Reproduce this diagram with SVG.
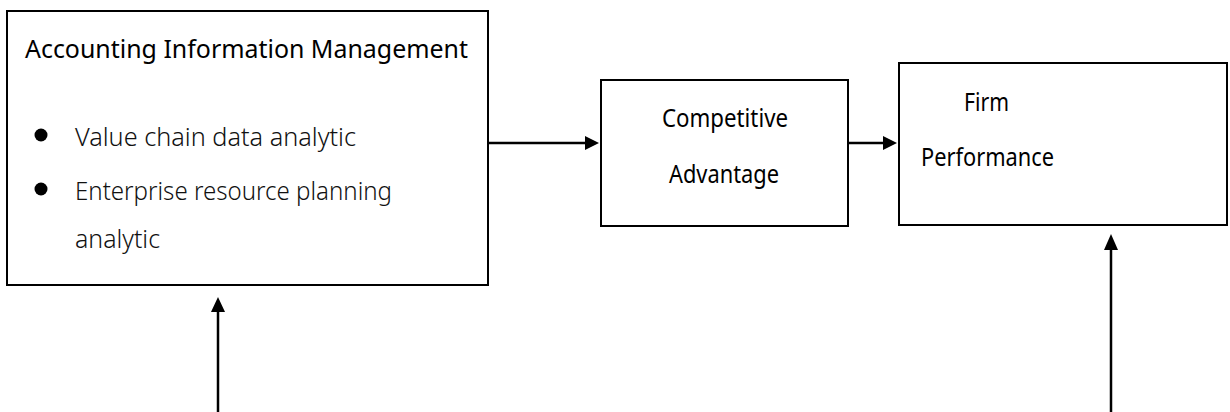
<svg xmlns="http://www.w3.org/2000/svg" width="1230" height="412" viewBox="0 0 1230 412">
  <defs>
    <style>
      .box { fill: #fff; stroke: #000; stroke-width: 2; }
      .head { font-family: "Noto Sans", "Open Sans", sans-serif; font-size: 25px; font-weight: 400; fill: #000; }
      .item { font-family: "Noto Sans", "Open Sans", sans-serif; font-size: 26px; font-weight: 300; fill: #111; }
      .link { fill: none; stroke: #000; stroke-width: 2.5; }
      .tip { fill: #000; stroke: none; }
    </style>
  </defs>
  <rect width="1230" height="412" fill="#fff"/>

  <g id="accounting-information-management">
    <rect class="box" x="7" y="11" width="481" height="274"/>
    <text class="head" x="25" y="58" textLength="443" lengthAdjust="spacingAndGlyphs">Accounting Information Management</text>
    <circle cx="41" cy="135" r="6.5" fill="#000"/>
    <circle cx="41" cy="189" r="6.5" fill="#000"/>
    <text class="item" x="75" y="146" textLength="281" lengthAdjust="spacingAndGlyphs">Value chain data analytic</text>
    <text class="item" x="75" y="200" textLength="317" lengthAdjust="spacingAndGlyphs">Enterprise resource planning</text>
    <text class="item" x="75" y="248" textLength="85" lengthAdjust="spacingAndGlyphs">analytic</text>
  </g>

  <g id="competitive-advantage">
    <rect class="box" x="601" y="80" width="247" height="146"/>
    <text class="head" x="662" y="127" textLength="126" lengthAdjust="spacingAndGlyphs">Competitive</text>
    <text class="head" x="669" y="183" textLength="110" lengthAdjust="spacingAndGlyphs">Advantage</text>
  </g>

  <g id="firm-performance">
    <rect class="box" x="899" y="63" width="328" height="162"/>
    <text class="head" x="964" y="111" textLength="45" lengthAdjust="spacingAndGlyphs">Firm</text>
    <text class="head" x="921" y="166" textLength="133" lengthAdjust="spacingAndGlyphs">Performance</text>
  </g>

  <g id="connectors">
    <line class="link" x1="488" y1="143" x2="588" y2="143"/>
    <polygon class="tip" points="599,143 585,136 585,150"/>
    <line class="link" x1="848" y1="143" x2="886" y2="143"/>
    <polygon class="tip" points="897,143 883,136 883,150"/>
    <line class="link" x1="218" y1="412" x2="218" y2="308"/>
    <polygon class="tip" points="218,297 211,312 225,312"/>
    <line class="link" x1="1111" y1="412" x2="1111" y2="245"/>
    <polygon class="tip" points="1111,234 1104,250 1118,250"/>
  </g>
</svg>
